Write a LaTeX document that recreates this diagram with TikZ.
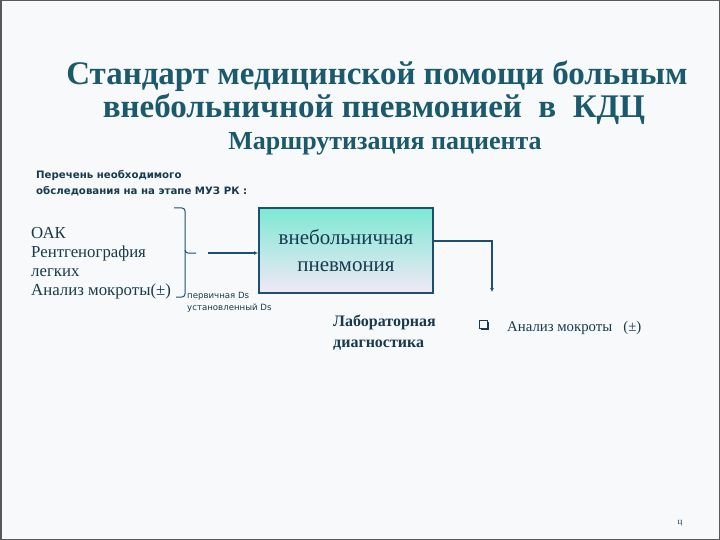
\documentclass[tikz,border=0pt]{standalone}
\usepackage{fontspec}
\setmainfont{Liberation Serif}
\setsansfont{DejaVu Sans}
\usetikzlibrary{arrows.meta, positioning}

\definecolor{titul}{HTML}{1B5A6C}
\definecolor{tekst}{HTML}{173A4E}
\definecolor{ramka}{HTML}{1D4F6E}
\definecolor{fon}{HTML}{F8F9FA}
\definecolor{verh}{HTML}{7DE8D4}
\definecolor{seredina}{HTML}{88BFF7}
\definecolor{niz}{HTML}{F2E8F6}

\begin{document}
\begin{tikzpicture}[x=1pt, y=-1pt,
    zag/.style={anchor=base, text=titul, font=\bfseries\fontsize{33}{35}\selectfont},
    podzag/.style={anchor=base, text=titul, font=\bfseries\fontsize{26}{28}\selectfont},
    spisok/.style={anchor=base west, text=tekst, align=left, inner sep=0pt,
        font=\fontsize{16.8}{19}\selectfont},
    melko/.style={anchor=base west, text=tekst, align=left, inner sep=0pt,
        font=\sffamily\bfseries\fontsize{10.2}{17}\selectfont},
    diagnoz/.style={draw=ramka, line width=2pt, minimum width=174, minimum height=85,
        top color=verh, middle color=seredina, bottom color=niz,
        text=tekst, align=center, font=\fontsize{21}{27}\selectfont},
    strelka/.style={ramka, -{Latex[length=4pt, width=4pt]}}]
    \useasboundingbox (0,0) rectangle (720,540);
    % Фон и рамка
    \fill[fon] (0,0) rectangle (720,540);
    \draw[gray!70!black, line width=1.5pt] (0.75,0.75) rectangle (719.25,539.25);

    % Заголовок
    \node[zag] (zag1) at (377,85) {Стандарт медицинской помощи больным};
    \node[zag] (zag2) at (374,118) {внебольничной пневмонией\ \ в\ \ КДЦ};
    \node[podzag] (zag3) at (385,150) {Маршрутизация пациента};

    % Перечень обследования
    \node[melko] (perechen) at (36,195) {Перечень необходимого\\ обследования на на этапе МУЗ РК :};
    \node[spisok] (oak) at (31,295) {ОАК\\Рентгенография\\легких\\Анализ мокроты(±)};

    % Скобка
    \draw[ramka, line width=1pt, rounded corners=3pt] (174,208) -- (185,208) -- (185,253) -- (196,253);
    \draw[ramka, line width=1pt, rounded corners=3pt] (185,250) -- (185,297) -- (176,297);
    \node[anchor=base west, text=tekst, align=left, inner sep=0pt,
        font=\sffamily\fontsize{8.6}{12}\selectfont] (ds) at (187,310) {первичная Ds\\установленный Ds};

    % Диагноз
    \node[diagnoz] (pnevm) at (346,250.5) {внебольничная\\пневмония};
    \coordinate (ot) at (208,253);
    \draw[strelka, line width=2pt] (ot) -- (pnevm.west |- ot);
    \coordinate (povorot) at (492,241);
    \coordinate (vniz) at (492,292);
    \draw[strelka, line width=1.2pt] (pnevm.east |- povorot) -- (povorot) -- (vniz);

    % Лабораторная диагностика
    \node[anchor=base west, text=tekst, align=left, inner sep=0pt,
        font=\bfseries\fontsize{16}{21}\selectfont] (lab) at (333,347) {Лабораторная\\диагностика};
    \draw[tekst, line width=1pt] (479.5,320.5) rectangle (487.5,328.5);
    \fill[tekst] (481,328.5) rectangle (488.5,330);
    \fill[tekst] (487.5,322) rectangle (489,330);
    \node[anchor=base west, text=tekst, inner sep=0pt,
        font=\fontsize{14.8}{16}\selectfont] (mokrota) at (507,331) {Анализ мокроты\ \ \ (±)};

    % Номер
    \node[text=tekst, font=\fontsize{9}{10}\selectfont] (nomer) at (680,523) {ц};
\end{tikzpicture}
\end{document}
